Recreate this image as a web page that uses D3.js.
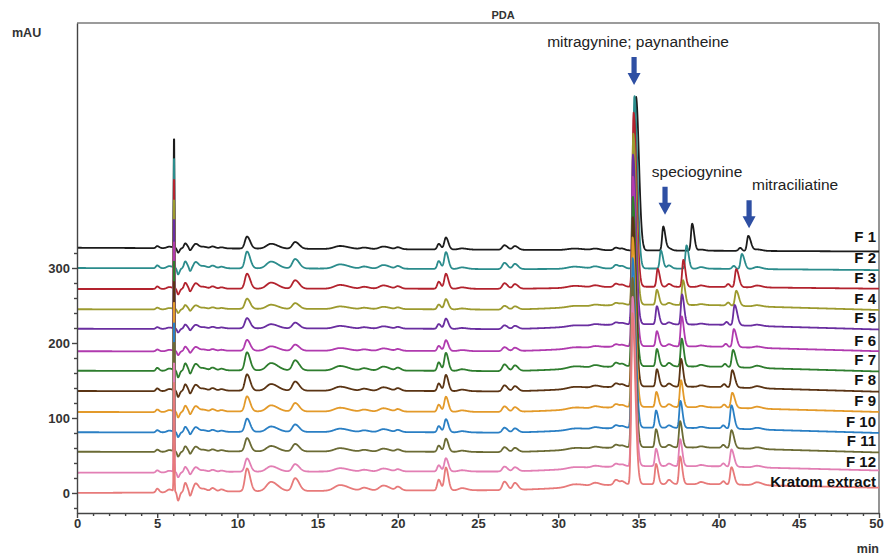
<!DOCTYPE html>
<html>
<head>
<meta charset="utf-8">
<script src="https://cdn.jsdelivr.net/npm/d3@7"></script>
<style>
  body { margin: 0; background: #fff; }
  svg { display: block; }
  text { font-family: "Liberation Sans", Arial, sans-serif; }
</style>
</head>
<body>
<svg></svg>
<script>
const width = 885, height = 557;

// traces, drawn top (F 1) to bottom (Kratom extract)
const traceNames = ["F 1", "F 2", "F 3", "F 4", "F 5", "F 6", "F 7", "F 8", "F 9", "F 10", "F 11", "F 12", "Kratom extract"];
const traceColors = ["#1c1c1c", "#2b8c8c", "#b3232e", "#9c9a2e", "#6a2ea0", "#b03aae", "#2e7d2e",
                     "#5a3414", "#e39a2a", "#2a7fc4", "#6b6b35", "#e27fb4", "#e77a7a"];
const baselineOffsets = [327, 300, 272, 245, 219, 189, 163, 136, 108, 81, 55, 27, 0];
const humpScale = [0, 0.2, 0.4, 1, 1, 1, 1, 1, 1, 1, 1, 1, 1];
const endDrift = [-5, -3, 0, -2, -2, -1, -2, -2, -1, -2, -2, 2, 6];
const minorScale = [1.0, 1.4, 1.25, 0.85, 0.85, 0.9, 1.5, 1.35, 1.25, 1.1, 1.1, 1.1, 1.9];

// mitragynine; paynantheine
const mgTimes = [34.85, 34.75, 34.7, 34.68, 34.66, 34.66, 34.65, 34.65, 34.64, 34.64, 34.63, 34.63, 34.62];
const mgHeights = [205, 230, 232, 228, 226, 226, 226, 226, 226, 226, 226, 226, 228];
// speciogynine
const sgTimes = [36.55, 36.4, 36.2, 36.15, 36.15, 36.15, 36.15, 36.15, 36.12, 36.1, 36.1, 36.1, 36.1];
const sgHeights = [32, 24, 24, 20, 24, 20, 23, 23, 20, 23, 24, 23, 27];
// peak near 37.7 min
const p37Times = [38.35, 38.0, 37.8, 37.78, 37.72, 37.7, 37.7, 37.66, 37.65, 37.62, 37.6, 37.6, 37.6];
const p37Heights = [36, 31, 36, 33, 40, 40, 37, 37, 36, 36, 35, 36, 37];
// mitraciliatine
const mcTimes = [41.85, 41.45, 41.1, 41.1, 41.0, 40.95, 40.9, 40.85, 40.85, 40.8, 40.8, 40.8, 40.8];
const mcHeights = [20, 20, 24, 20, 27, 24, 23, 23, 20, 31, 24, 23, 23];
const mcShoulderGap = 0.5, mcShoulderHeight = 4;

// injection spike
const spikeTime = 6.05, spikeHeight = 160;

// small peaks shared by all traces (heights for F 1)
const minorTimes   = [5.0, 5.75, 6.3, 6.75, 7.05, 7.4, 7.9, 8.45, 9.0, 10.6, 12.1, 13.6, 16.4, 17.9, 19.1, 20.0, 22.55, 23.0, 24.0, 26.65, 27.3, 31.0, 32.3, 33.6, 34.0, 36.9, 38.9, 42.4];
const minorHeights = [2.7, 2, -6, 6.5, -3, 6, 2, 2.5, 1.5, 16, 6.5, 9, 4, 2, 3.5, 2.5, 7.5, 16, 1.5, 6, 5, 2, 2, 3.5, 2, 3, 1.5, 2];
const minorWidths  = [0.08, 0.15, 0.06, 0.08, 0.05, 0.13, 0.15, 0.12, 0.12, 0.13, 0.28, 0.17, 0.35, 0.2, 0.25, 0.13, 0.09, 0.1, 0.2, 0.13, 0.13, 0.4, 0.2, 0.13, 0.11, 0.11, 0.15, 0.2];

// slow baseline (gradient) shape
const baseTimes  = [0, 5, 10, 20, 27, 29, 31, 33, 34.5, 36, 40, 43, 50];
const baseValues = [0, 0, 1, 1, 0.5, 2, 4, 6.5, 7.5, 7.5, 7, 5, 1];

const xTickValues = [0, 5, 10, 15, 20, 25, 30, 35, 40, 45, 50];
const yTickValues = [0, 100, 200, 300];

const annLabels = ["mitragynine; paynantheine", "speciogynine", "mitraciliatine"];
const annTimes = [34.73, 36.66, 41.9];
const annTips = [544, 371, 353];
const annLabelDx = [4, 32, 46];

const svg = d3.select("svg").attr("width", width).attr("height", height);

const margin = {left: 77, right: 6, top: 23, bottom: 44};
const x = d3.scaleLinear().domain([0, 50]).range([margin.left, width - margin.right]);
const y = d3.scaleLinear().domain([-26.7, 626.7]).range([height - margin.bottom, margin.top]);
const baseShape = d3.scaleLinear().domain(baseTimes).range(baseValues).clamp(true);

function gauss(t, t0, h, sL, sR) {
    const s = t < t0 ? sL : sR;
    const z = (t - t0) / s;
    return z * z > 60 ? 0 : h * Math.exp(-0.5 * z * z);
}

function signal(i, t) {
    let v = baselineOffsets[i] + humpScale[i] * baseShape(t) + endDrift[i] * t / 50;
    v += gauss(t, spikeTime, spikeHeight, 0.022, 0.022);
    minorTimes.forEach((m, k) => {
        v += minorScale[i] * gauss(t, m, minorHeights[k], minorWidths[k], minorWidths[k] * 1.5);
    });
    v += gauss(t, mgTimes[i], mgHeights[i], 0.07, 0.18);
    v += gauss(t, sgTimes[i], sgHeights[i], 0.07, 0.13);
    v += gauss(t, p37Times[i], p37Heights[i], 0.07, 0.13);
    v += gauss(t, mcTimes[i], mcHeights[i], 0.08, 0.16);
    v += gauss(t, mcTimes[i] - mcShoulderGap, mcShoulderHeight, 0.1, 0.1);
    return v;
}

const times = d3.range(0, 50.0001, 0.02);

svg.append("clipPath").attr("id", "plotClip")
    .append("rect")
    .attr("x", margin.left).attr("y", margin.top)
    .attr("width", width - margin.left - margin.right)
    .attr("height", height - margin.top - margin.bottom);

// frame
svg.append("line")
    .attr("x1", margin.left).attr("x2", width - margin.right)
    .attr("y1", margin.top).attr("y2", margin.top)
    .attr("stroke", "#7a7a7a").attr("stroke-width", 1.6);
svg.append("line")
    .attr("x1", width - margin.right).attr("x2", width - margin.right)
    .attr("y1", margin.top).attr("y2", height - margin.bottom)
    .attr("stroke", "#7a7a7a").attr("stroke-width", 1.6);

// traces
const line = d3.line().x(d => x(d[0])).y(d => y(d[1]));
const traces = svg.append("g").attr("clip-path", "url(#plotClip)");
traceNames.forEach((name, i) => {
    const pts = times.map(t => [t, signal(i, t)]);
    traces.append("path")
        .datum(pts)
        .attr("d", line)
        .attr("fill", "none")
        .attr("stroke", traceColors[i])
        .attr("stroke-width", 1.8)
        .attr("stroke-linejoin", "round");
});

// trace labels
svg.append("g").selectAll("text")
    .data(traceNames)
    .join("text")
    .attr("x", width - margin.right - 3)
    .attr("y", (d, i) => y(baselineOffsets[i]) - 5.5)
    .attr("text-anchor", "end")
    .attr("font-size", 15)
    .attr("font-weight", "bold")
    .attr("fill", "#111")
    .text(d => d);

// axes
const axisColor = "#444";
const xAxis = svg.append("g")
    .attr("transform", `translate(0,${height - margin.bottom})`)
    .call(d3.axisBottom(x).tickValues(xTickValues).tickSize(5).tickSizeOuter(0).tickPadding(1));
svg.append("g")
    .attr("transform", `translate(0,${height - margin.bottom})`)
    .call(d3.axisBottom(x).tickValues(d3.range(0, 51, 1).filter(v => v % 5 !== 0)).tickSize(3).tickFormat(""))
    .call(g => g.select(".domain").remove());

const yAxis = svg.append("g")
    .attr("transform", `translate(${margin.left},0)`)
    .call(d3.axisLeft(y).tickValues(yTickValues).tickSize(5).tickSizeOuter(0).tickPadding(2));
svg.append("g")
    .attr("transform", `translate(${margin.left},0)`)
    .call(d3.axisLeft(y).tickValues(d3.range(-20, 321, 20).filter(v => v % 100 !== 0)).tickSize(3).tickFormat(""))
    .call(g => g.select(".domain").remove());

svg.selectAll(".domain, .tick line").attr("stroke", axisColor).attr("stroke-width", 1.4);
[xAxis, yAxis].forEach(g => g.selectAll("text")
    .attr("font-size", 13).attr("font-weight", "bold").attr("fill", "#333")
    .style("font-family", "'Liberation Sans', Arial, sans-serif"));
// keep the last x label inside the window
xAxis.selectAll(".tick text").filter(d => d === 50).attr("dx", -3);

svg.append("text").attr("x", 12).attr("y", 37)
    .attr("font-size", 12.5).attr("font-weight", "bold").attr("fill", "#333").text("mAU");
svg.append("text").attr("x", width - margin.right).attr("y", 553)
    .attr("text-anchor", "end")
    .attr("font-size", 12.5).attr("font-weight", "bold").attr("fill", "#333").text("min");
svg.append("text").attr("x", 503).attr("y", 19)
    .attr("text-anchor", "middle")
    .attr("font-size", 11).attr("font-weight", "bold").attr("fill", "#333").text("PDA");

// annotations with arrows
const arrowColor = "#2e4fa3";
annLabels.forEach((label, k) => {
    const ax = x(annTimes[k]), tip = y(annTips[k]);
    const len = 28, shaft = 2.6, head = 6.5, headLen = 12;
    const pathStr = `M${ax},${tip} L${ax - head},${tip - headLen} L${ax - shaft},${tip - headLen} ` +
        `L${ax - shaft},${tip - len} L${ax + shaft},${tip - len} L${ax + shaft},${tip - headLen} ` +
        `L${ax + head},${tip - headLen} Z`;
    svg.append("path").attr("d", pathStr).attr("fill", arrowColor);
    svg.append("text")
        .attr("x", ax + annLabelDx[k])
        .attr("y", tip - len - 10)
        .attr("text-anchor", "middle")
        .attr("font-size", 15.5)
        .attr("fill", "#222")
        .text(label);
});
</script>
</body>
</html>
